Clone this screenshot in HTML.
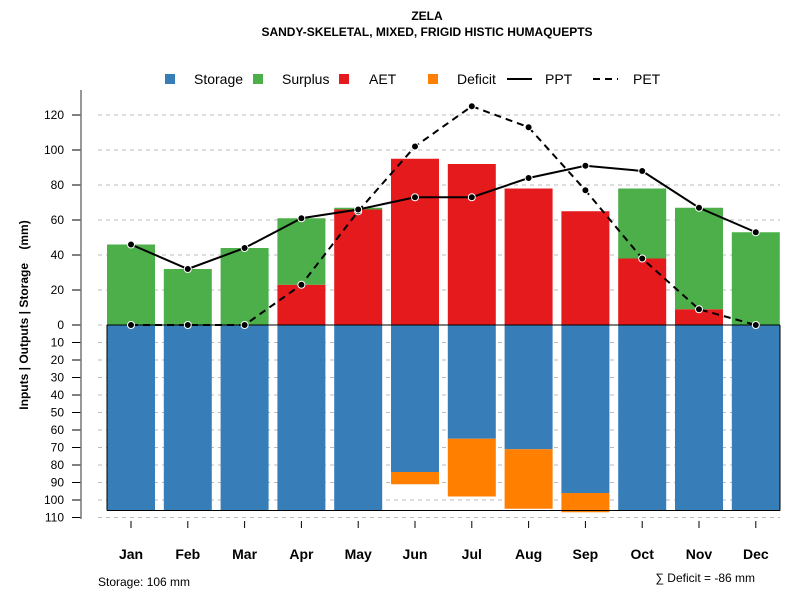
<!DOCTYPE html>
<html><head><meta charset="utf-8"><style>
body{margin:0;background:#fff}
svg text{font-family:"Liberation Sans",Arial,sans-serif}
</style></head><body>
<svg id="chart" width="800" height="600" xmlns="http://www.w3.org/2000/svg">
<text x="427" y="20" text-anchor="middle" font-size="12" font-weight="bold">ZELA</text>
<text x="427" y="36" text-anchor="middle" font-size="12" font-weight="bold">SANDY-SKELETAL, MIXED, FRIGID HISTIC HUMAQUEPTS</text>
<g id="legend" font-size="14">
<rect x="165" y="74" width="10" height="10" fill="#377eb8"/><text x="194" y="84">Storage</text>
<rect x="253" y="74" width="10" height="10" fill="#4daf4a"/><text x="282" y="84">Surplus</text>
<rect x="339" y="74" width="10" height="10" fill="#e41a1c"/><text x="369" y="84">AET</text>
<rect x="428" y="74" width="10" height="10" fill="#ff7f00"/><text x="457" y="84">Deficit</text>
<line x1="507" y1="79" x2="532" y2="79" stroke="#000" stroke-width="2"/><text x="545" y="84">PPT</text>
<line x1="593" y1="79" x2="618" y2="79" stroke="#000" stroke-width="2" stroke-dasharray="7,5"/><text x="633" y="84">PET</text>
</g>
<g id="grid"></g><g id="axis"></g><g id="bars"></g><g id="lines"></g><g id="xlabels"></g>
<text transform="translate(28,315) rotate(-90)" text-anchor="middle" font-size="12" font-weight="bold" style="white-space:pre">Inputs | Outputs | Storage    (mm)</text>
<text x="98" y="586" font-size="12">Storage: 106 mm</text>
<text x="755" y="582" text-anchor="end" font-size="12">∑ Deficit = -86 mm</text>
</svg>
<script>
const months=["Jan","Feb","Mar","Apr","May","Jun","Jul","Aug","Sep","Oct","Nov","Dec"];
const aet=[0,0,0,23,66,95,92,78,65,38,9,0];
const surplus=[46,32,44,38,1,0,0,0,0,40,58,53];
const storage=[106,106,106,106,106,84,65,71,96,106,106,106];
const deficit=[0,0,0,0,0,7,33,34,11,0,0,0];
const ppt=[46,32,44,61,66,73,73,84,91,88,67,53];
const pet=[0,0,0,23,65,102,125,113,77,38,9,0];
const posTicks=[0,20,40,60,80,100,120];
const negTicks=[10,20,30,40,50,60,70,80,90,100,110];
const NS="http://www.w3.org/2000/svg";
const y0=325,k=1.75;
const yUp=v=>y0-v*k, yDn=v=>y0+v*k;
const xc=i=>131+i*56.8, bw=48;
function mk(t,a,p){const e=document.createElementNS(NS,t);for(const n in a)e.setAttribute(n,a[n]);p.appendChild(e);return e;}
const grid=document.getElementById('grid'),axis=document.getElementById('axis'),bars=document.getElementById('bars'),lines=document.getElementById('lines'),xl=document.getElementById('xlabels');
function tick(y,lab){
 const g=mk('line',{x1:98,x2:780,y1:y,y2:y,stroke:'#bbb','stroke-dasharray':'4,4'},grid);
 
 
 mk('line',{x1:72,x2:81,y1:y,y2:y,stroke:'#000'},axis);
 const t=mk('text',{x:64,y:y+4,'text-anchor':'end','font-size':12},axis);t.textContent=lab;
 
 
}
posTicks.forEach(v=>tick(yUp(v),v));
negTicks.forEach(v=>tick(yDn(v),v));
mk('line',{x1:81,x2:81,y1:90,y2:519,stroke:'#777','stroke-width':1.5},axis);
months.forEach((m,i)=>{
 const x=xc(i)-bw/2;
 let r=mk('rect',{x:x,y:yUp(aet[i]),width:bw,height:aet[i]*k,fill:'#e41a1c'},bars);
 
 
 r=mk('rect',{x:x,y:yUp(aet[i]+surplus[i]),width:bw,height:surplus[i]*k,fill:'#4daf4a'},bars);
 
 
 r=mk('rect',{x:x,y:y0,width:bw,height:storage[i]*k,fill:'#377eb8'},bars);
 
 
 r=mk('rect',{x:x,y:yDn(storage[i]),width:bw,height:deficit[i]*k,fill:'#ff7f00'},bars);
 
 
 mk('line',{x1:xc(i),x2:xc(i),y1:521,y2:528,stroke:'#000'},xl);
 const t=mk('text',{x:xc(i),y:559,'text-anchor':'middle','font-size':14,'font-weight':'bold'},xl);t.textContent=m;
 
 
});
mk('line',{x1:107,x2:780,y1:y0,y2:y0,stroke:'#000'},bars);
mk('line',{x1:107,x2:780,y1:yDn(106),y2:yDn(106),stroke:'#000'},bars);
mk('line',{x1:107,x2:107,y1:y0,y2:yDn(106),stroke:'#000'},bars);
mk('line',{x1:780,x2:780,y1:y0,y2:yDn(106),stroke:'#000'},bars);
function series(arr,name,dash){
 const p=mk('polyline',{points:arr.map((v,i)=>xc(i)+','+yUp(v)).join(' '),fill:'none',stroke:'#000','stroke-width':2},lines);
 if(dash)p.setAttribute('stroke-dasharray','7,5');
 
 
 arr.forEach((v,i)=>{const c=mk('circle',{cx:xc(i),cy:yUp(v),r:3.5,fill:'#000',stroke:'#fff','stroke-width':1},lines);
 
 });
}
series(pet,'pet',true);
series(ppt,'ppt',false);
</script>
</body></html>
